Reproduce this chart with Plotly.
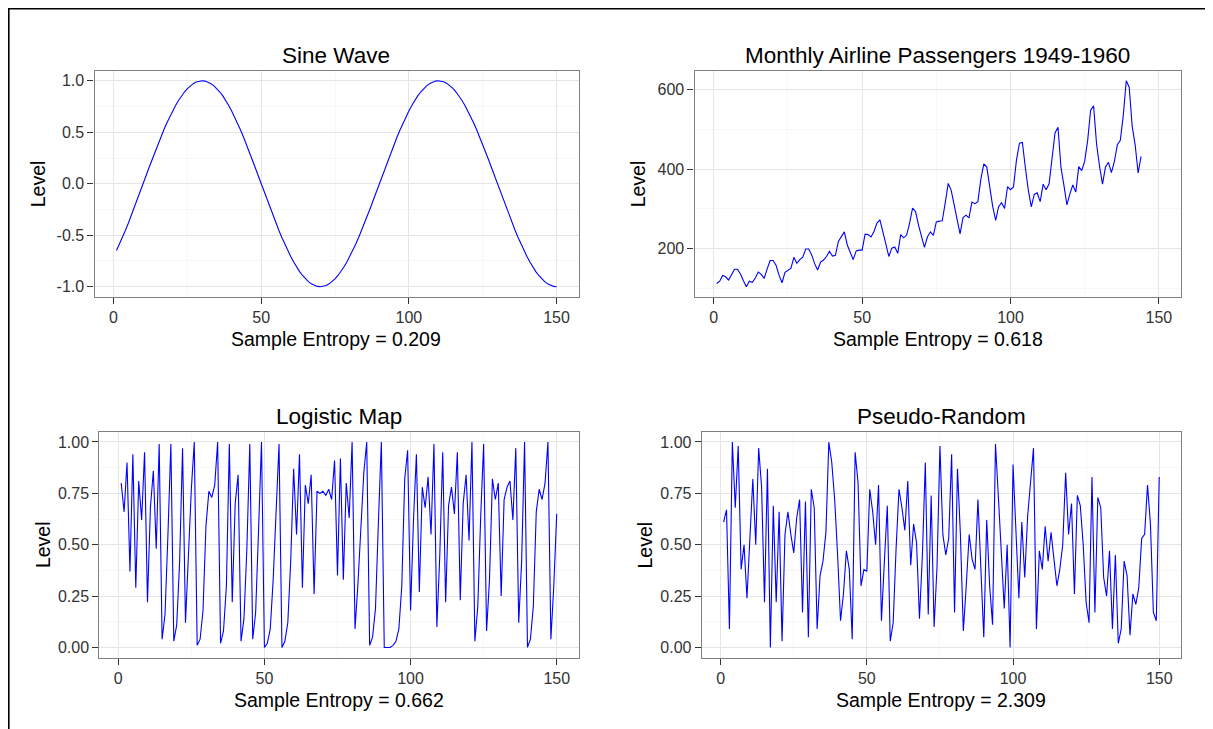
import plotly.graph_objects as go

# the page adds an 8 px body margin, so the figure is drawn 8 px smaller and shifted
OFF = 8
W, H = 1213 - OFF, 729 - OFF

# ---------------- data ----------------
sine_x = list(range(1, 151))
sine_y = [
    -0.649, -0.588, -0.522, -0.454, -0.383, -0.309, -0.233, -0.156, -0.078, 0.000,
    0.078, 0.156, 0.233, 0.309, 0.383, 0.454, 0.522, 0.588, 0.649, 0.707,
    0.760, 0.809, 0.853, 0.891, 0.924, 0.951, 0.972, 0.988, 0.997, 1.000,
    0.997, 0.988, 0.972, 0.951, 0.924, 0.891, 0.853, 0.809, 0.760, 0.707,
    0.649, 0.588, 0.522, 0.454, 0.383, 0.309, 0.233, 0.156, 0.078, 0.000,
    -0.078, -0.156, -0.233, -0.309, -0.383, -0.454, -0.522, -0.588, -0.649, -0.707,
    -0.760, -0.809, -0.853, -0.891, -0.924, -0.951, -0.972, -0.988, -0.997, -1.000,
    -0.997, -0.988, -0.972, -0.951, -0.924, -0.891, -0.853, -0.809, -0.760, -0.707,
    -0.649, -0.588, -0.522, -0.454, -0.383, -0.309, -0.233, -0.156, -0.078, 0.000,
    0.078, 0.156, 0.233, 0.309, 0.383, 0.454, 0.522, 0.588, 0.649, 0.707,
    0.760, 0.809, 0.853, 0.891, 0.924, 0.951, 0.972, 0.988, 0.997, 1.000,
    0.997, 0.988, 0.972, 0.951, 0.924, 0.891, 0.853, 0.809, 0.760, 0.707,
    0.649, 0.588, 0.522, 0.454, 0.383, 0.309, 0.233, 0.156, 0.078, 0.000,
    -0.078, -0.156, -0.233, -0.309, -0.383, -0.454, -0.522, -0.588, -0.649, -0.707,
    -0.760, -0.809, -0.853, -0.891, -0.924, -0.951, -0.972, -0.988, -0.997, -1.000,
]

air_x = list(range(1, 145))
air_y = [
    112, 118, 132, 129, 121, 135, 148, 148, 136, 119, 104, 118,
    115, 126, 141, 135, 125, 149, 170, 170, 158, 133, 114, 140,
    145, 150, 178, 163, 172, 178, 199, 199, 184, 162, 146, 166,
    171, 180, 193, 181, 183, 218, 230, 242, 209, 191, 172, 194,
    196, 196, 236, 235, 229, 243, 264, 272, 237, 211, 180, 201,
    204, 188, 235, 227, 234, 264, 302, 293, 259, 229, 203, 229,
    242, 233, 267, 269, 270, 315, 364, 347, 312, 274, 237, 278,
    284, 277, 317, 313, 318, 374, 413, 405, 355, 306, 271, 306,
    315, 301, 356, 348, 355, 422, 465, 467, 404, 347, 305, 336,
    340, 318, 362, 348, 363, 435, 491, 505, 404, 359, 310, 337,
    360, 342, 406, 396, 420, 472, 548, 559, 463, 407, 362, 405,
    417, 391, 419, 461, 472, 535, 622, 606, 508, 461, 390, 432,
]

logi_x = list(range(1, 151))
logi_y = [
    0.80, 0.66, 0.90, 0.37, 0.94, 0.29, 0.81, 0.62, 0.95, 0.22,
    0.68, 0.86, 0.48, 0.99, 0.04, 0.16, 0.55, 0.99, 0.03, 0.11,
    0.42, 0.97, 0.12, 0.43, 0.77, 1.00, 0.01, 0.04, 0.18, 0.59,
    0.76, 0.73, 0.79, 1.00, 0.02, 0.08, 0.30, 0.99, 0.22, 0.70,
    0.84, 0.03, 0.14, 0.48, 0.99, 0.04, 0.17, 0.57, 1.00, 0.00,
    0.02, 0.09, 0.33, 0.66, 0.99, 0.00, 0.03, 0.12, 0.42, 0.87,
    0.55, 0.94, 0.29, 0.79, 0.70, 0.84, 0.26, 0.76, 0.75, 0.76,
    0.74, 0.77, 0.72, 0.91, 0.35, 0.92, 0.33, 0.80, 0.63, 1.00,
    0.09, 0.31, 0.58, 0.85, 1.00, 0.01, 0.05, 0.19, 0.61, 1.00,
    0.00, 0.00, 0.00, 0.01, 0.03, 0.09, 0.30, 0.82, 0.96, 0.18,
    0.62, 0.94, 0.27, 0.78, 0.68, 0.83, 0.55, 0.99, 0.10, 0.45,
    0.95, 0.22, 0.69, 0.78, 0.65, 0.95, 0.23, 0.70, 0.84, 0.52,
    1.00, 0.03, 0.20, 0.64, 0.99, 0.08, 0.33, 0.82, 0.72, 0.80,
    0.25, 0.72, 0.78, 0.81, 0.62, 0.97, 0.12, 0.42, 1.00, 0.00,
    0.04, 0.20, 0.66, 0.77, 0.72, 0.80, 1.00, 0.04, 0.30, 0.65,
]

rand_x = list(range(1, 151))
rand_y = [
    0.61, 0.67, 0.09, 1.00, 0.68, 0.98, 0.38, 0.50, 0.24, 0.51,
    0.82, 0.50, 0.97, 0.78, 0.22, 0.87, 0.00, 0.69, 0.22, 0.66,
    0.03, 0.55, 0.66, 0.55, 0.46, 0.63, 0.72, 0.17, 0.71, 0.05,
    0.77, 0.68, 0.09, 0.35, 0.42, 0.56, 1.00, 0.90, 0.72, 0.45,
    0.13, 0.26, 0.47, 0.38, 0.04, 0.95, 0.80, 0.30, 0.38, 0.37,
    0.77, 0.66, 0.50, 0.79, 0.13, 0.42, 0.69, 0.03, 0.12, 0.48,
    0.77, 0.68, 0.57, 0.81, 0.40, 0.60, 0.51, 0.14, 0.45, 0.90,
    0.16, 0.74, 0.10, 0.39, 0.98, 0.55, 0.45, 0.53, 0.94, 0.17,
    0.87, 0.55, 0.08, 0.30, 0.55, 0.43, 0.38, 0.72, 0.40, 0.05,
    0.62, 0.30, 0.11, 0.99, 0.73, 0.45, 0.19, 0.50, 0.00, 0.89,
    0.58, 0.24, 0.61, 0.34, 0.64, 0.81, 0.97, 0.09, 0.47, 0.38,
    0.59, 0.42, 0.56, 0.43, 0.30, 0.38, 0.50, 0.85, 0.55, 0.70,
    0.26, 0.74, 0.69, 0.50, 0.22, 0.12, 0.83, 0.17, 0.73, 0.68,
    0.34, 0.25, 0.47, 0.09, 0.45, 0.02, 0.09, 0.42, 0.35, 0.06,
    0.26, 0.21, 0.29, 0.53, 0.55, 0.79, 0.60, 0.17, 0.13, 0.83,
]

titles = ["Sine Wave", "Monthly Airline Passengers 1949-1960", "Logistic Map", "Pseudo-Random"]
xlabels = ["Sample Entropy = 0.209", "Sample Entropy = 0.618",
           "Sample Entropy = 0.662", "Sample Entropy = 2.309"]
ylabel = "Level"

x_tickvals = [0, 50, 100, 150]
x_ticktext = ["0", "50", "100", "150"]
sine_tickvals = [-1.0, -0.5, 0.0, 0.5, 1.0]
sine_ticktext = ["-1.0", "-0.5", "0.0", "0.5", "1.0"]
air_tickvals = [200, 400, 600]
air_ticktext = ["200", "400", "600"]
unit_tickvals = [0.0, 0.25, 0.5, 0.75, 1.0]
unit_ticktext = ["0.00", "0.25", "0.50", "0.75", "1.00"]

# ---------------- layout geometry (page pixels) ----------------
panels = [
    dict(x0=94.5, x1=578.5, y0=70.5, y1=297.0),
    dict(x0=694.6, x1=1181.0, y0=70.5, y1=297.0),
    dict(x0=99.4, x1=578.5, y0=431.7, y1=657.7),
    dict(x0=701.8, x1=1181.0, y0=431.7, y1=657.7),
]
series = [(sine_x, sine_y), (air_x, air_y), (logi_x, logi_y), (rand_x, rand_y)]
yticks = [(sine_tickvals, sine_ticktext, [-1.1, 1.1], 0.25),
          (air_tickvals, air_ticktext, [78.1, 647.9], 100),
          (unit_tickvals, unit_ticktext, [-0.05, 1.05], 0.125),
          (unit_tickvals, unit_ticktext, [-0.05, 1.05], 0.125)]

FONT = "Liberation Sans, Arial, sans-serif"
fig = go.Figure()


def px_x(p):
    return (p - OFF) / W


def px_y(p):
    return 1 - (p - OFF) / H


annotations = []
for k, (p, (xs, ys), (tv, tt, yr, ydt)) in enumerate(zip(panels, series, yticks)):
    n = "" if k == 0 else str(k + 1)
    fig.add_trace(go.Scatter(x=xs, y=ys, mode="lines",
                             line=dict(color="#0000FF", width=1.1),
                             xaxis="x" + n, yaxis="y" + n, showlegend=False,
                             hoverinfo="skip"))
    common = dict(showline=True, mirror=True, linecolor="#7F7F7F", linewidth=1.3,
                  ticks="outside", ticklen=6, tickwidth=1.2, tickcolor="#333333",
                  showgrid=True, gridcolor="#E5E5E5", gridwidth=1, zeroline=False,
                  tickfont=dict(family=FONT, size=16, color="#333333"),
                  ticklabelstandoff=0)
    fig.update_layout(**{
        "xaxis" + n: dict(common, domain=[px_x(p["x0"]), px_x(p["x1"])],
                          range=[-6.45, 157.45], tickvals=x_tickvals, ticktext=x_ticktext,
                          anchor="y" + n,
                          minor=dict(dtick=25, tick0=0, showgrid=True, gridcolor="#F7F7F7",
                                     gridwidth=1, ticks="")),
        "yaxis" + n: dict(common, domain=[px_y(p["y1"]), px_y(p["y0"])],
                          range=yr, tickvals=tv, ticktext=tt, anchor="x" + n,
                          minor=dict(dtick=ydt, tick0=0, showgrid=True, gridcolor="#F7F7F7",
                                     gridwidth=1, ticks="")),
    })
    cx = (p["x0"] + p["x1"]) / 2
    cy = (p["y0"] + p["y1"]) / 2
    annotations.append(dict(text=titles[k], x=px_x(cx), y=px_y(p["y0"] - 15),
                            xref="paper", yref="paper", xanchor="center", yanchor="middle",
                            showarrow=False, font=dict(family=FONT, size=22.5, color="#000000")))
    annotations.append(dict(text=xlabels[k], x=px_x(cx), y=px_y(p["y1"] + 42),
                            xref="paper", yref="paper", xanchor="center", yanchor="middle",
                            showarrow=False, font=dict(family=FONT, size=19.5, color="#000000")))
    annotations.append(dict(text=ylabel, x=px_x(p["x0"] - 57), y=px_y(cy),
                            xref="paper", yref="paper", xanchor="center", yanchor="middle",
                            textangle=-90, showarrow=False,
                            font=dict(family=FONT, size=19.5, color="#000000")))

fig.update_layout(
    width=W, height=H,
    margin=dict(l=0, r=0, t=0, b=0),
    paper_bgcolor="#FFFFFF", plot_bgcolor="#FFFFFF",
    annotations=annotations,
    shapes=[dict(type="rect", xref="paper", yref="paper",
                 x0=0.8 / W, x1=px_x(1210.0), y0=px_y(760), y1=1 - 0.8 / H,
                 line=dict(color="#000000", width=1.6), fillcolor="rgba(0,0,0,0)",
                 layer="above")],
)

fig.write_html("out.html")
